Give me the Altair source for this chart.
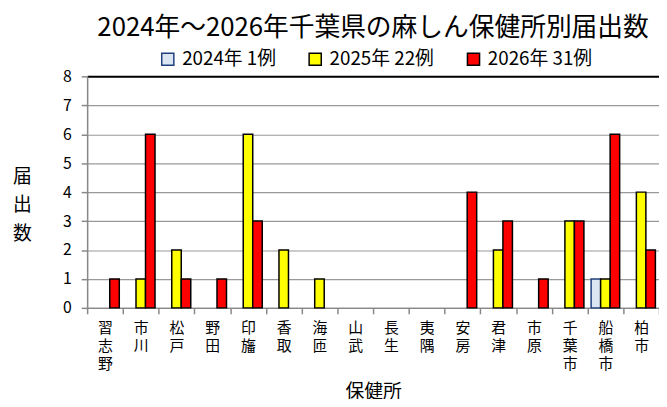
import altair as alt
import pandas as pd

categories = ["習志野", "市川", "松戸", "野田", "印旛", "香取", "海匝", "山武",
              "長生", "夷隅", "安房", "君津", "市原", "千葉市", "船橋市", "柏市"]
cases_2024 = [0, 0, 0, 0, 0, 0, 0, 0, 0, 0, 0, 0, 0, 0, 1, 0]
cases_2025 = [0, 1, 2, 0, 6, 2, 1, 0, 0, 0, 0, 2, 0, 3, 1, 4]
cases_2026 = [1, 6, 1, 1, 3, 0, 0, 0, 0, 0, 4, 3, 1, 3, 6, 2]
series_labels = ["2024年 1例", "2025年 22例", "2026年 31例"]
fills = ["#dce6f2", "#ffff00", "#ff0000"]
strokes = ["#1f3f7f", "#000000", "#000000"]
y_ticks = [0, 1, 2, 3, 4, 5, 6, 7, 8]

rows = []
for s, vals in zip(series_labels, [cases_2024, cases_2025, cases_2026]):
    for c, v in zip(categories, vals):
        if v > 0:
            rows.append({"cat": c, "series": s, "value": v})
df = pd.DataFrame(rows)

FONT = "Noto Sans CJK JP"

legend = alt.Legend(
    title=None, orient="none", direction="horizontal", legendX=72, legendY=-27,
    symbolType="square", symbolSize=150, symbolStrokeWidth=1.5,
    labelFontSize=19, labelFont=FONT, labelColor="#000", columnPadding=30,
    labelOffset=5, symbolOpacity=1,
)

chart = alt.Chart(df).mark_bar(strokeWidth=1.5, opacity=1).encode(
    x=alt.X("cat:N", sort=categories,
            scale=alt.Scale(domain=categories, paddingInner=0, paddingOuter=0),
            axis=alt.Axis(title="保健所", labelAngle=0,
                          labelExpr="split(datum.label, '')",
                          labelFontSize=15, labelLineHeight=18, labelBaseline="top",
                          labelPadding=7, labelColor="#000", labelFont=FONT,
                          tickBand="extent", tickSize=6, tickColor="#888", tickWidth=1.5,
                          domainColor="#888", domainWidth=1.5,
                          titleFontSize=19, titleFont=FONT, titleFontWeight="normal",
                          titleBaseline="middle", titleY=85, titleColor="#000")),
    xOffset=alt.XOffset("series:N",
                        scale=alt.Scale(domain=series_labels, paddingInner=0, paddingOuter=0.38)),
    y=alt.Y("value:Q", scale=alt.Scale(domain=[0, 8], nice=False),
            axis=alt.Axis(title=["届", "出", "数"], values=y_ticks, format="d",
                          titleAngle=0, titleX=-66, titleY=92, titleBaseline="top",
                          titleAlign="center", titleLineHeight=29, titleFontSize=19,
                          titleFont=FONT, titleFontWeight="normal", titleColor="#000",
                          labelFontSize=16, labelFont=FONT, labelColor="#000", labelPadding=10,
                          tickSize=6, tickColor="#888", tickWidth=1.5,
                          domainColor="#888", domainWidth=1.5,
                          grid=True,
                          gridColor={"condition": {"test": "datum.value === 8", "value": "#000"},
                                     "value": "#999"},
                          gridWidth={"condition": {"test": "datum.value === 8", "value": 2},
                                     "value": 1.2})),
    fill=alt.Fill("series:N", scale=alt.Scale(domain=series_labels, range=fills), legend=legend),
    stroke=alt.Stroke("series:N", scale=alt.Scale(domain=series_labels, range=strokes), legend=legend),
).properties(
    width=578, height=234,
    title=alt.TitleParams("2024年～2026年千葉県の麻しん保健所別届出数", fontSize=26, font=FONT,
                          fontWeight="normal", color="#000", offset=9, anchor="middle"),
    autosize=alt.AutoSizeParams(type="none"),
    padding={"left": 80, "top": 67, "right": 0, "bottom": 90},
).configure_view(stroke=None).configure(font=FONT)

chart.save("out.html", embed_options={"renderer": "svg", "actions": False})
